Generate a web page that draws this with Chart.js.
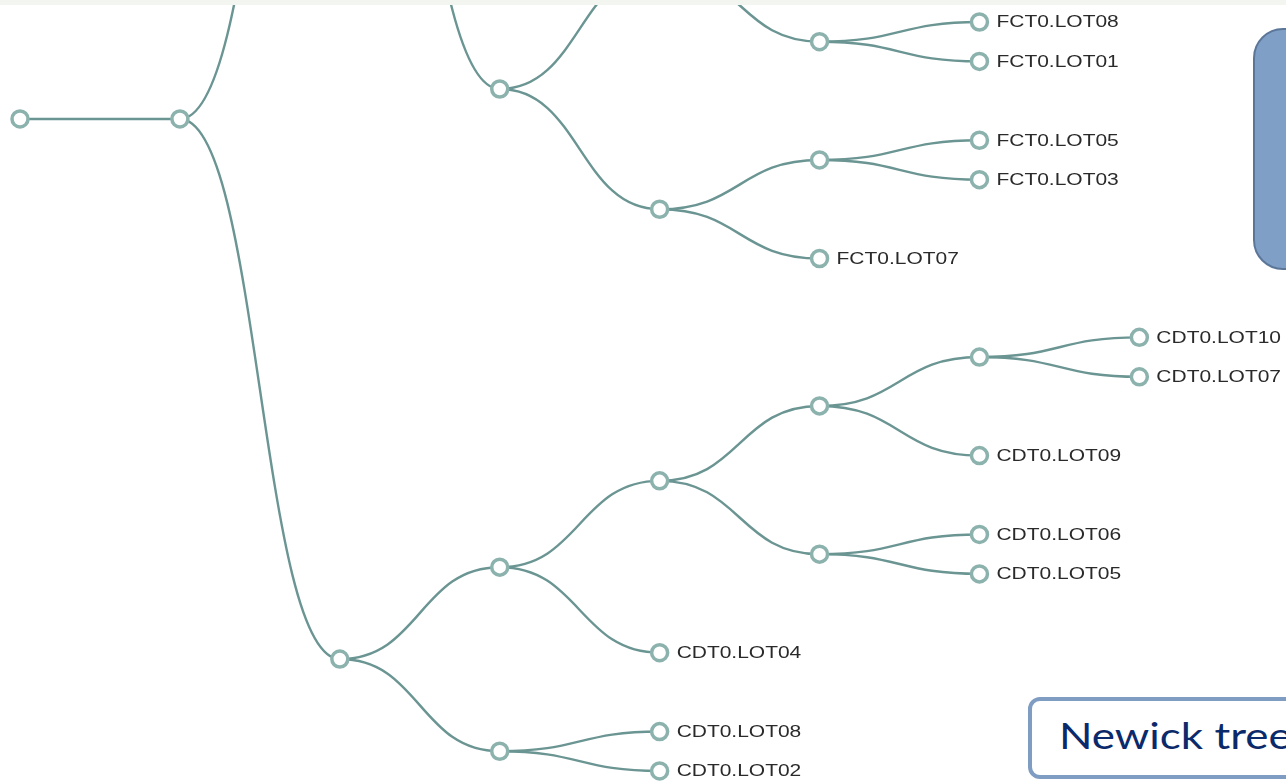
<!DOCTYPE html>
<html>
<head>
<meta charset="utf-8">
<script src="https://cdn.jsdelivr.net/npm/chart.js@4.4.1/dist/chart.umd.min.js"></script>
<style>
  html, body { margin: 0; padding: 0; background: #fff; overflow: hidden; }
  #wrap { position: absolute; left: 0; top: 0; width: 1286px; height: 783px; }
  #topBand { position: absolute; left: 0; top: 0; width: 1286px; height: 5px; background: #f3f5f0; }
  #blueBox { position: absolute; left: 1253px; top: 28px; width: 80px; height: 238px;
    background: #7f9fc6; border: 2px solid #5b7699; border-radius: 30px; }
  #newickBox { position: absolute; left: 1028px; top: 697px; width: 320px; height: 74px;
    background: #fff; border: 4px solid #7f9cc3; border-radius: 12px; }
  #newickText { position: absolute; left: 27px; top: 12px; font-family: Lato, sans-serif;
    font-size: 36px; color: #0b2a6b; transform: scaleX(1.22); transform-origin: left top; white-space: nowrap; }
</style>
</head>
<body>
<div id="wrap">
  <canvas id="arvore" width="1286" height="783"></canvas>
  <div id="topBand"></div>
  <div id="blueBox"></div>
  <div id="newickBox"><div id="newickText">Newick tree</div></div>
</div>
<script>
// tree nodes: name ('' for inner nodes), depth, row position, parent index
var nomes = [
  '', '', '', '', '',
  '', '', '', '', 'FCT0.LOT08',
  'FCT0.LOT01', '', 'FCT0.LOT07', 'FCT0.LOT05', 'FCT0.LOT03',
  'FCT0.LOT02', 'FCT0.LOT04', 'FCT0.LOT06', '', 'FCT0.LOT09',
  'FCT0.LOT10', '', '', '', 'CDT0.LOT08',
  'CDT0.LOT02', '', 'CDT0.LOT04', '', '',
  '', 'CDT0.LOT09', 'CDT0.LOT10', 'CDT0.LOT07', 'CDT0.LOT06',
  'CDT0.LOT05'
];
var profundidade = [
  0, 1, 2, 3, 3,
  4, 4, 5, 5, 6,
  6, 5, 5, 6, 6,
  6, 6, 4, 4, 5,
  5, 2, 3, 3, 4,
  4, 4, 4, 5, 5,
  6, 6, 7, 7, 6,
  6
];
var linha = [
  2.46, 2.46, -11.24, 1.70, -24.18,
  -1.35, 4.75, 0.5, -3.2, 0,
  1, 3.5, 6, 3, 4,
  -3.7, -2.7, -24.68, -23.68, -24.18,
  -23.18, 16.16, 13.83, 18.5, 18,
  19, 11.64, 16, 9.74, 13.5,
  8.5, 11, 8, 9, 13,
  14
];
var pai = [
  -1, 0, 1, 2, 2,
  3, 3, 5, 5, 7,
  7, 6, 6, 11, 11,
  8, 8, 4, 4, 18,
  18, 1, 21, 21, 23,
  23, 22, 22, 26, 26,
  28, 28, 30, 30, 29,
  29
];

var corLigacao = '#6a9592';
var corNo = '#8cb2ae';

var pontos = profundidade.map(function(d, i) { return { x: d, y: linha[i] }; });

var pluginLigacoes = {
  id: 'ligacoes',
  beforeDatasetsDraw: function(chart) {
    var ctx = chart.ctx;
    var sx = chart.scales.x, sy = chart.scales.y;
    ctx.save();
    ctx.strokeStyle = corLigacao;
    ctx.lineWidth = 2.4;
    for (var i = 0; i < pai.length; i++) {
      if (pai[i] < 0) continue;
      var p = pai[i];
      var x0 = sx.getPixelForValue(profundidade[p]), y0 = sy.getPixelForValue(linha[p]);
      var x1 = sx.getPixelForValue(profundidade[i]), y1 = sy.getPixelForValue(linha[i]);
      var xm = (x0 + x1) / 2;
      ctx.beginPath();
      ctx.moveTo(x0, y0);
      ctx.bezierCurveTo(xm, y0, xm, y1, x1, y1);
      ctx.stroke();
    }
    ctx.restore();
  }
};

var pluginRotulos = {
  id: 'rotulos',
  afterDatasetsDraw: function(chart) {
    var ctx = chart.ctx;
    var sx = chart.scales.x, sy = chart.scales.y;
    ctx.save();
    ctx.fillStyle = '#2a2a2a';
    ctx.font = '16px "Liberation Sans", Arial, sans-serif';
    ctx.textBaseline = 'middle';
    for (var i = 0; i < nomes.length; i++) {
      if (!nomes[i]) continue;
      var x = sx.getPixelForValue(profundidade[i]) + 17;
      var y = sy.getPixelForValue(linha[i]) + 1;
      ctx.save();
      ctx.translate(x, y);
      ctx.scale(1.31, 1);
      ctx.fillText(nomes[i], 0, 0);
      ctx.restore();
    }
    ctx.restore();
  }
};

new Chart(document.getElementById('arvore').getContext('2d'), {
  type: 'scatter',
  data: {
    datasets: [{
      label: 'nos',
      data: pontos,
      pointRadius: 8,
      pointHoverRadius: 8,
      pointBorderWidth: 3.5,
      pointBorderColor: corNo,
      pointBackgroundColor: '#fff'
    }]
  },
  options: {
    responsive: false,
    animation: false,
    layout: { padding: 0, autoPadding: false },
    plugins: {
      legend: { display: false },
      tooltip: { enabled: false }
    },
    scales: {
      x: { type: 'linear', display: false, min: -0.125, max: 7.917 },
      y: { type: 'linear', display: false, reverse: true, min: -0.558, max: 19.305 }
    }
  },
  plugins: [pluginLigacoes, pluginRotulos]
});
</script>
</body>
</html>
